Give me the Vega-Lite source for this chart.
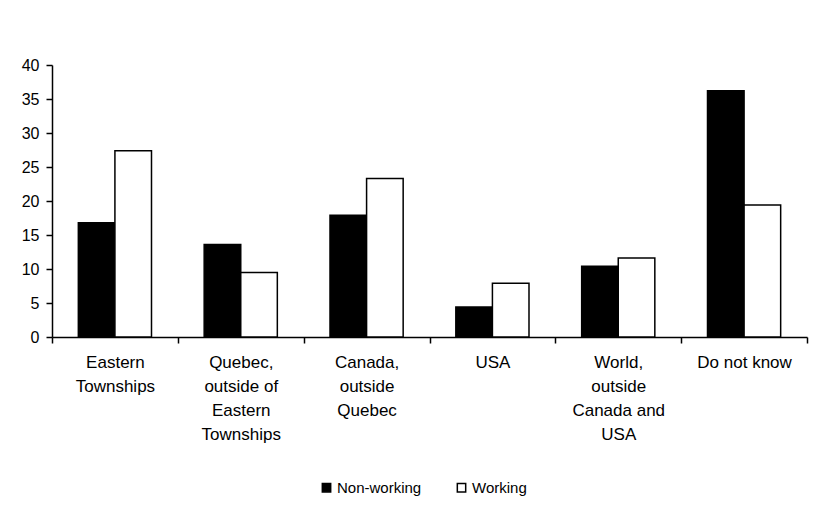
{
  "$schema": "https://vega.github.io/schema/vega-lite/v6.json",
  "width": 755,
  "height": 272,
  "autosize": {"type": "none"},
  "padding": {"left": 52, "top": 65, "right": 22, "bottom": 179},
  "background": "white",
  "config": {
    "view": {"stroke": null},
    "font": "Liberation Sans"
  },
  "data": {
    "values": [
      {"place": "Eastern Townships", "group": "Non-working", "percent": 16.8},
      {"place": "Eastern Townships", "group": "Working", "percent": 27.4},
      {"place": "Quebec, outside of Eastern Townships", "group": "Non-working", "percent": 13.6},
      {"place": "Quebec, outside of Eastern Townships", "group": "Working", "percent": 9.5},
      {"place": "Canada, outside Quebec", "group": "Non-working", "percent": 17.9},
      {"place": "Canada, outside Quebec", "group": "Working", "percent": 23.3},
      {"place": "USA", "group": "Non-working", "percent": 4.4},
      {"place": "USA", "group": "Working", "percent": 7.9},
      {"place": "World, outside Canada and USA", "group": "Non-working", "percent": 10.4},
      {"place": "World, outside Canada and USA", "group": "Working", "percent": 11.6},
      {"place": "Do not know", "group": "Non-working", "percent": 36.2},
      {"place": "Do not know", "group": "Working", "percent": 19.4}
    ]
  },
  "mark": {"type": "bar", "stroke": "black", "strokeWidth": 1.5},
  "encoding": {
    "x": {
      "field": "place",
      "type": "nominal",
      "sort": null,
      "scale": {"paddingInner": 0, "paddingOuter": 0},
      "axis": {
        "title": null,
        "labelAngle": 0,
        "domainColor": "black",
        "domainWidth": 1.5,
        "tickColor": "black",
        "tickWidth": 1.5,
        "tickSize": 6,
        "tickBand": "extent",
        "labelColor": "black",
        "labelFontSize": 17,
        "labelLineHeight": 24,
        "labelPadding": 11,
        "labelExpr": "datum.value == 'Eastern Townships' ? ['Eastern', 'Townships'] : datum.value == 'Quebec, outside of Eastern Townships' ? ['Quebec,', 'outside of', 'Eastern', 'Townships'] : datum.value == 'Canada, outside Quebec' ? ['Canada,', 'outside', 'Quebec'] : datum.value == 'World, outside Canada and USA' ? ['World,', 'outside', 'Canada and', 'USA'] : datum.value"
      }
    },
    "xOffset": {
      "field": "group",
      "type": "nominal",
      "sort": ["Non-working", "Working"],
      "scale": {"paddingInner": 0, "paddingOuter": 0.72}
    },
    "y": {
      "field": "percent",
      "type": "quantitative",
      "scale": {"domain": [0, 40]},
      "axis": {
        "title": null,
        "values": [0, 5, 10, 15, 20, 25, 30, 35, 40],
        "grid": false,
        "domainColor": "black",
        "domainWidth": 1.5,
        "tickColor": "black",
        "tickWidth": 1.5,
        "tickSize": 6,
        "labelColor": "black",
        "labelFontSize": 16,
        "labelPadding": 7
      }
    },
    "fill": {
      "field": "group",
      "type": "nominal",
      "sort": ["Non-working", "Working"],
      "scale": {"domain": ["Non-working", "Working"], "range": ["black", "white"]},
      "legend": {
        "title": null,
        "orient": "none",
        "direction": "horizontal",
        "legendX": 267,
        "legendY": 415,
        "symbolType": "square",
        "symbolSize": 70,
        "symbolStrokeColor": "black",
        "symbolStrokeWidth": 1.5,
        "labelFontSize": 15,
        "labelColor": "black",
        "labelOffset": 3,
        "columnPadding": 32
      }
    }
  }
}
